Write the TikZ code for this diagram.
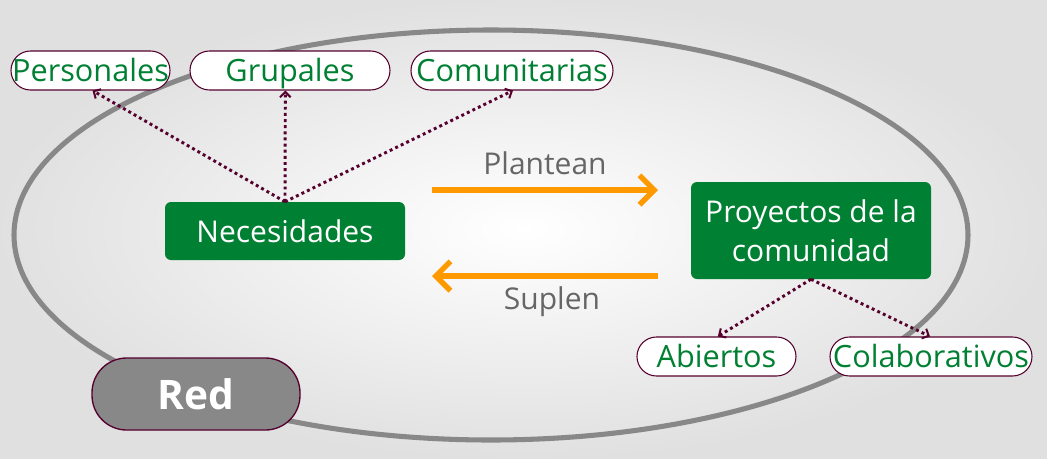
\documentclass[tikz,border=0pt]{standalone}
\usepackage{fontspec}
\setmainfont{Open Sans}
\usepackage{xcolor}
\usetikzlibrary{positioning, arrows.meta}

\definecolor{boxgreen}{RGB}{0,128,51}
\definecolor{wine}{RGB}{85,0,45}
\definecolor{flowor}{RGB}{255,153,0}
\definecolor{labgray}{RGB}{102,102,102}
\definecolor{ringgray}{RGB}{136,136,136}

\begin{document}
\begin{tikzpicture}[x=0.75pt, y=-0.75pt,
    box/.style={fill=boxgreen, text=white, rounded corners=4.5pt, minimum width=180pt,
                align=center, font=\fontsize{22.5}{29}\selectfont},
    tag/.style={draw=wine, line width=0.8pt, fill=white, text=boxgreen, minimum height=29.25pt,
                rounded corners=14.6pt, inner xsep=0pt, text height=16.8pt, text depth=0pt,
                font=\fontsize{23}{26}\selectfont},
    flow/.style={flowor, line width=4pt, -{Straight Barb[length=11pt, width=22pt]}},
    link/.style={wine, line width=2.2pt, dash pattern=on 2.2pt off 2.4pt,
                 -{Straight Barb[length=4pt, width=8pt, line width=1.5pt]}},
    verb/.style={text=labgray, font=\fontsize{22.5}{26}\selectfont}]
    % background
    \shade[inner color=white, outer color=black!12] (0,0) rectangle (1047,458);
    \useasboundingbox (0,0) rectangle (1047,458);
    \draw[ringgray, line width=3.8pt] (491,235) ellipse [x radius=477, y radius=205];

    % main boxes
    \node[box, minimum height=43.5pt]         (nec)  at (285,231)   {Necesidades};
    \node[box, minimum height=72.75pt]        (proy) at (811,230.5) {Proyectos de la\\comunidad};

    % kinds of needs and projects
    \node[tag, minimum width=119.25pt]        (pers) at (90.5,70.5) {Personales};
    \node[tag, minimum width=150pt]           (grup) at (290,70.5)  {Grupales};
    \node[tag, minimum width=151.5pt]         (comu) at (512,70.5)  {Comunitarias};
    \node[tag, minimum width=119.25pt]        (abie) at (716.5,356.5) {Abiertos};
    \node[tag, minimum width=151.5pt]         (cola) at (931,356.5) {Colaborativos};

    \node[draw=wine, line width=1pt, fill=ringgray, text=white, rounded corners=26pt,
          minimum width=156pt, minimum height=54pt,
          font=\fontsize{30.5}{34}\selectfont\bfseries] (red) at (196,394) {Red};

    % flows between the boxes
    \coordinate (pa) at (432,190);
    \coordinate (pb) at (658,190);
    \coordinate (sa) at (658,276);
    \coordinate (sb) at (432,276);
    \draw[flow] (pa) -- (pb);
    \draw[flow] (sa) -- (sb);
    \node[verb] (plan) at (545,163) {Plantean};
    \node[verb] (supl) at (552,302) {Suplen};

    % dotted links
    \draw[link] (nec.north) -- ([xshift=1.5pt]pers.south);
    \draw[link] (nec.north) -- ([xshift=-3.5pt]grup.south);
    \draw[link] (nec.north) -- ([xshift=0.75pt]comu.south);
    \draw[link] (proy.south) -- ([xshift=1pt]abie.north);
    \draw[link] (proy.south) -- ([xshift=-0.75pt]cola.north);
\end{tikzpicture}
\end{document}
